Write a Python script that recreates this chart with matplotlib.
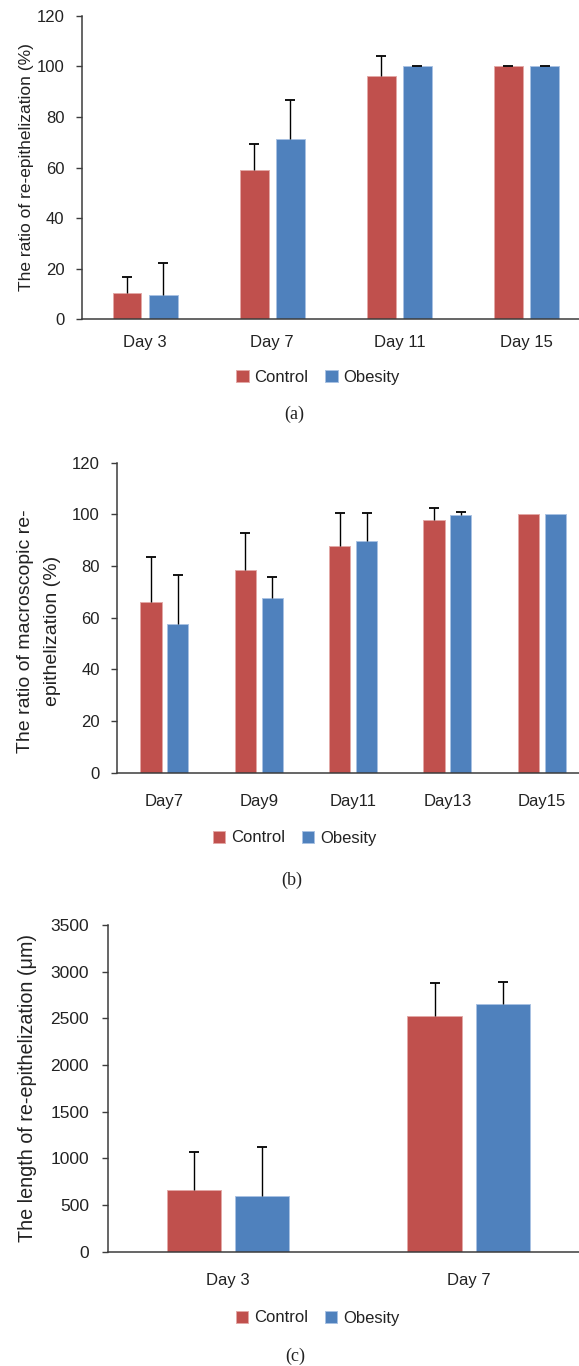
import numpy as np
import matplotlib
matplotlib.use("Agg")
import matplotlib.pyplot as plt
from matplotlib.patches import Patch

plt.rcParams['font.family'] = ['Liberation Sans', 'DejaVu Sans']

# panel (a)
days_a = ['Day 3', 'Day 7', 'Day 11', 'Day 15']
ctrl_a = [10.2, 58.9, 96.0, 100]
ctrl_a_err = [6.5, 10.5, 8.1, 0]
obes_a = [9.5, 71.4, 100, 100]
obes_a_err = [12.6, 15.4, 0, 0]

# panel (b)
days_b = ['Day7', 'Day9', 'Day11', 'Day13', 'Day15']
ctrl_b = [66.1, 78.3, 87.8, 97.9, 100]
ctrl_b_err = [17.5, 14.6, 12.7, 4.6, np.nan]
obes_b = [57.4, 67.6, 89.6, 99.6, 100]
obes_b_err = [19.0, 8.3, 10.9, 1.2, np.nan]

# panel (c)
days_c = ['Day 3', 'Day 7']
ctrl_c = [661, 2529]
ctrl_c_err = [404, 353]
obes_c = [600, 2654]
obes_c_err = [525, 239]

RED = '#C0504D'
BLUE = '#4F81BD'
TXT = '#222222'
AX = '#3c3c3c'

W, H = 579, 1366
fig = plt.figure(figsize=(W / 100, H / 100), dpi=100)


def px(x0, y0, x1, y1):
    # pixel box -> figure fraction [left, bottom, width, height]
    return [x0 / W, 1 - y1 / H, (x1 - x0) / W, (y1 - y0) / H]


def bars(ax, xs, vals, errs, color, edge):
    vals = np.asarray(vals, float)
    errs = np.asarray(errs, float)
    ax.bar(xs, vals, 0.225, color=color, edgecolor=edge, linewidth=0.7, zorder=2)
    # only the upper half of the error bar, like Excel "plus" style
    ax.errorbar(xs, vals, yerr=[np.zeros(len(vals)), errs], fmt='none',
                ecolor='black', elinewidth=1.0, capsize=0, zorder=3)
    ax.plot(xs, vals + errs, linestyle='none', marker='_', markersize=7,
            markeredgewidth=1.3, color='black', zorder=3)


def panel(box, cats, c, ce, o, oe, ymax, ystep, xpad, fs, ypad):
    ax = fig.add_axes(box)
    x = np.arange(len(cats))
    bars(ax, x - 0.142, c, ce, RED, '#E3A9A7')
    bars(ax, x + 0.142, o, oe, BLUE, '#A9C2E3')
    ax.set_xlim(-0.5, len(cats) - 0.5)
    ax.set_ylim(0, ymax)
    ax.set_yticks(np.arange(0, ymax + 1, ystep))
    ax.set_xticks(x)
    ax.set_xticklabels(cats)
    for s in ['top', 'right']:
        ax.spines[s].set_visible(False)
    for s in ['left', 'bottom']:
        ax.spines[s].set_color(AX)
        ax.spines[s].set_linewidth(1.1)
    ax.tick_params(axis='y', length=4, width=1.0, color=AX, labelsize=fs,
                   labelcolor=TXT, pad=ypad)
    ax.tick_params(axis='x', length=0, labelsize=12, labelcolor=TXT, pad=xpad)
    return ax


def legend(cx, cy):
    h = [Patch(facecolor=RED, edgecolor='#E3A9A7', linewidth=0.7),
         Patch(facecolor=BLUE, edgecolor='#A9C2E3', linewidth=0.7)]
    fig.legend(h, ['Control', 'Obesity'], loc='center',
               bbox_to_anchor=(cx / W, 1 - cy / H), ncol=2, frameon=False,
               fontsize=12, handlelength=0.75, handleheight=0.75,
               handletextpad=0.35, columnspacing=1.0, labelcolor=TXT)


# (a)
panel(px(81.7, 15.7, 590, 319.3), days_a, ctrl_a, ctrl_a_err, obes_a, obes_a_err,
      120, 20, 11, 12, 8.5)
fig.text(27 / W, 1 - 167.5 / H, 'The ratio of re-epithelization (%)',
         rotation=90, ha='center', va='center', fontsize=12.5, color=TXT)
legend(318, 377.7)
fig.text(294 / W, 1 - 414 / H, '(a)', ha='center', va='center',
         fontsize=13, family='Liberation Serif', color=TXT)

# (b)
panel(px(117.3, 462.7, 589, 772.7), days_b, ctrl_b, ctrl_b_err, obes_b, obes_b_err,
      120, 20, 15, 12, 8.5)
fig.text(39 / W, 1 - 631 / H, 'The ratio of macroscopic re-\nepithelization (%)',
         rotation=90, ha='center', va='center', fontsize=14, color=TXT,
         linespacing=1.8, multialignment='center')
legend(294.5, 838)
fig.text(292 / W, 1 - 880 / H, '(b)', ha='center', va='center',
         fontsize=13, family='Liberation Serif', color=TXT)

# (c)
panel(px(107.7, 925, 589, 1251.7), days_c, ctrl_c, ctrl_c_err, obes_c, obes_c_err,
      3500, 500, 15, 12.5, 9.5)
fig.text(27.5 / W, 1 - 1088.3 / H, 'The length of re-epithelization (\u03bcm)',
         rotation=90, ha='center', va='center', fontsize=14.2, color=TXT)
legend(317.5, 1318)
fig.text(295 / W, 1 - 1356 / H, '(c)', ha='center', va='center',
         fontsize=13, family='Liberation Serif', color=TXT)

fig.savefig('out.png', dpi=100)
